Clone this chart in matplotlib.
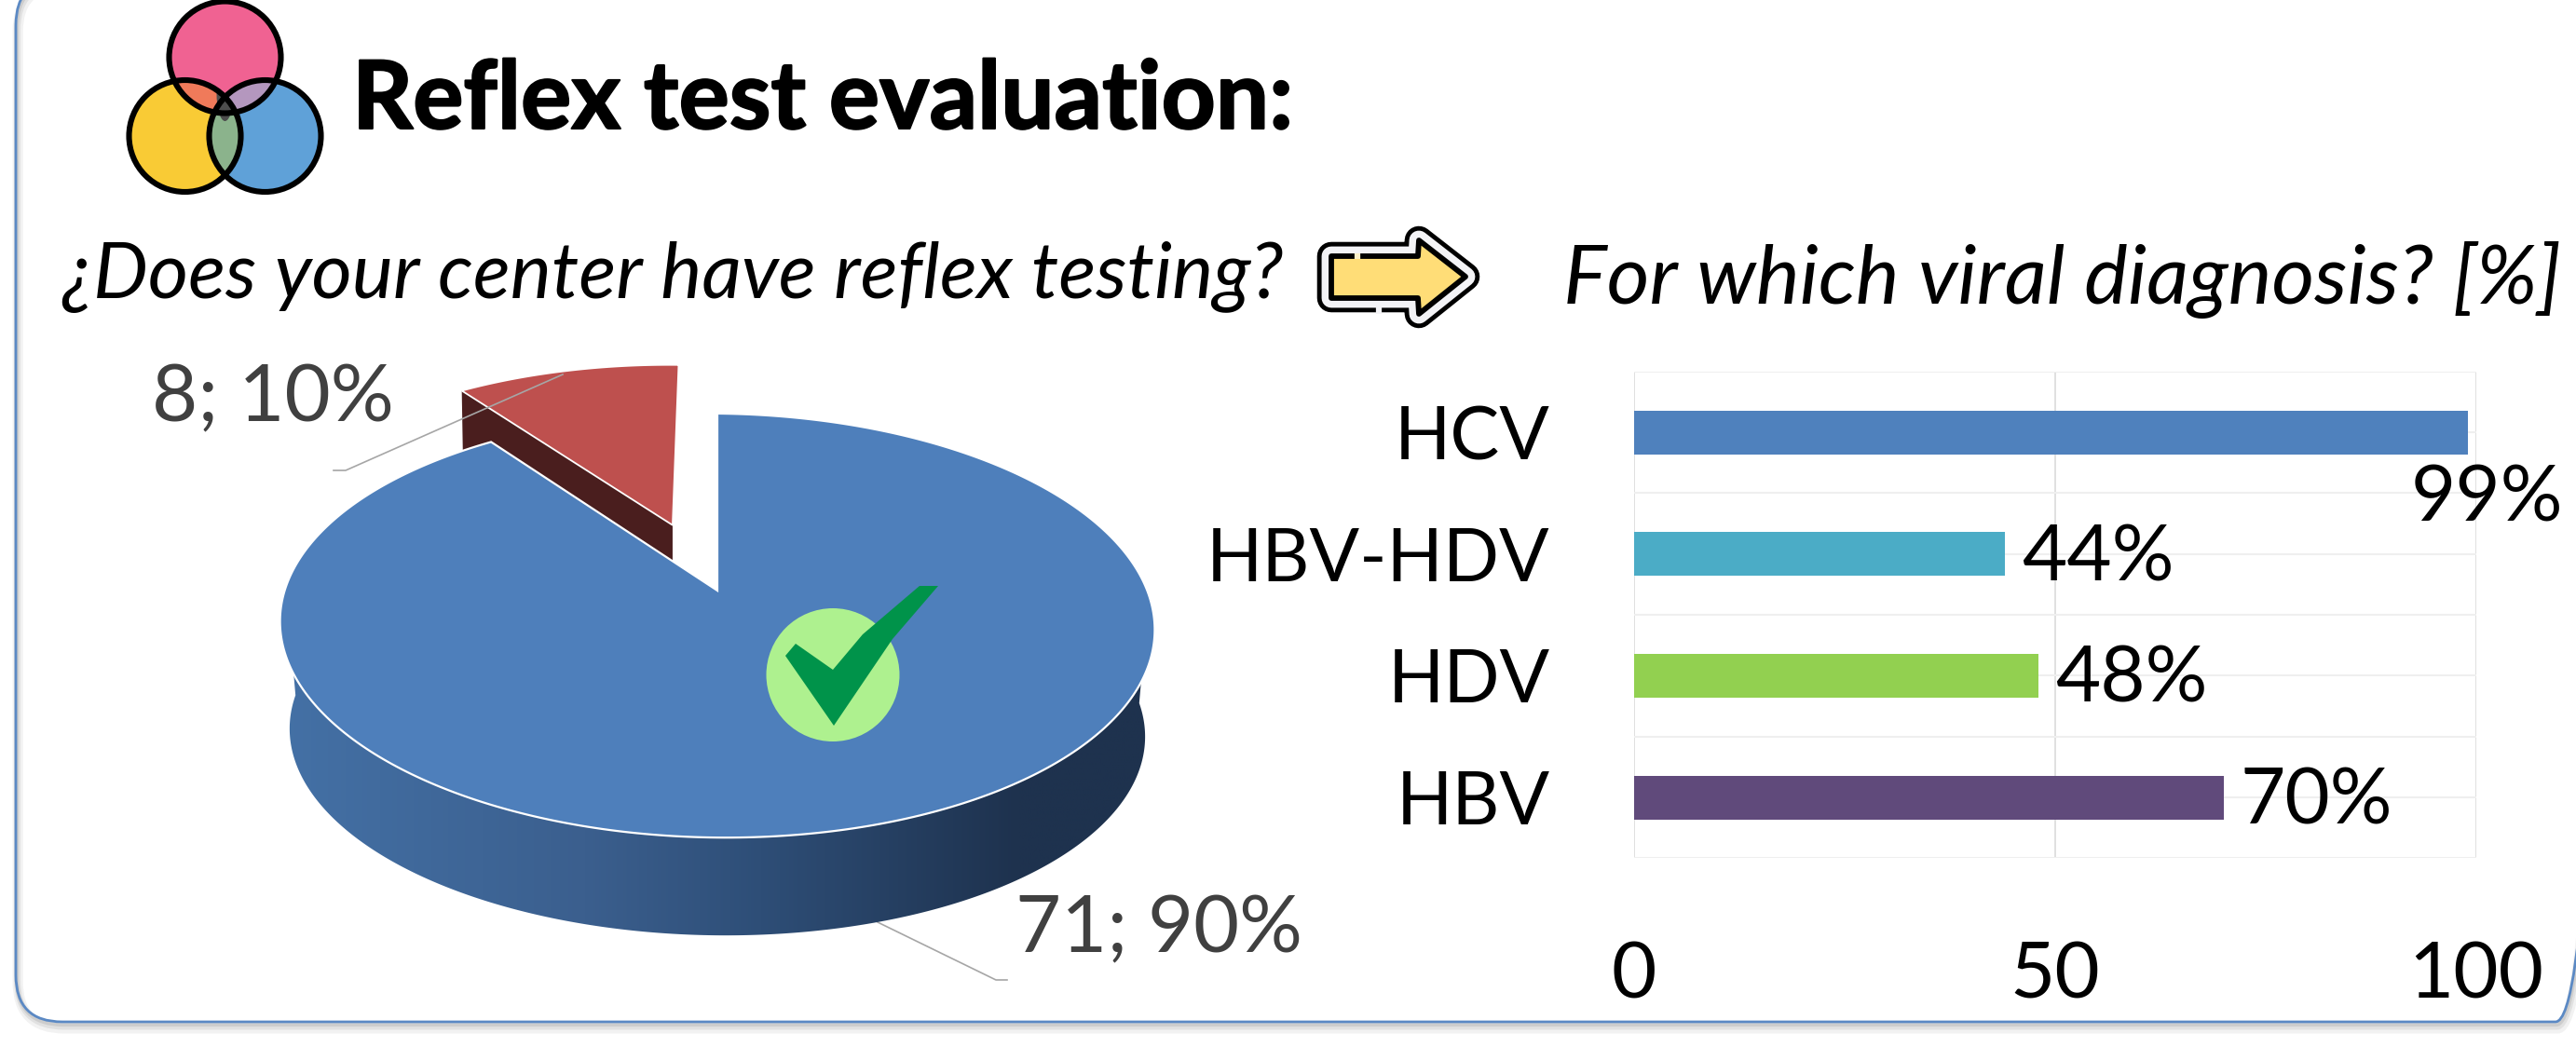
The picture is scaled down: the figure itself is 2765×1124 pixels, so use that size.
import numpy as np
import matplotlib
matplotlib.use("Agg")
import matplotlib.pyplot as plt
import matplotlib.patheffects as pe
from matplotlib.patches import Ellipse, Polygon, FancyBboxPatch, Circle

# ---------- data ----------
pie_labels = ["Yes", "No"]
pie_counts = [71, 8]
bar_categories = ["HCV", "HBV-HDV", "HDV", "HBV"]
bar_values = [99, 44, 48, 70]
bar_colors = ["#4F81BD", "#4BACC6", "#92D050", "#604A7B"]
bar_ticks = [0, 50, 100]
title_text = "Reflex test evaluation:"
left_question = "¿Does your center have reflex testing?"
right_question = "For which viral diagnosis? [%]"

W, H = 2765, 1124
FONT = "Lato"
fig = plt.figure(figsize=(W / 100, H / 100), dpi=100, facecolor="white")

# overlay in pixel coordinates
ov = fig.add_axes([0, 0, 1, 1], zorder=1)
ov.set_xlim(0, W)
ov.set_ylim(H, 0)
ov.axis("off")
ov.patch.set_alpha(0)

# ---------- frame ----------
frame_xy = (17, -23)
frame_wh = (2776, 1120)
for off, a, lw in [(7, 0.10, 8), (5, 0.14, 5), (3, 0.20, 3)]:
    ov.add_patch(FancyBboxPatch((frame_xy[0] + off * 0.3, frame_xy[1] + off), *frame_wh,
                                boxstyle="round,pad=0,rounding_size=50",
                                fc="none", ec="#808080", alpha=a, lw=lw, zorder=1))
ov.add_patch(FancyBboxPatch(frame_xy, *frame_wh, boxstyle="round,pad=0,rounding_size=50",
                            fc="none", ec="#5B89C4", lw=2.0, zorder=2))


def fit_text(s, x0, x1, baseline, **kw):
    t = ov.text(x0, baseline, s, family=FONT, va="baseline", ha="left", fontsize=60, zorder=30, **kw)
    r = fig.canvas.get_renderer()
    w = t.get_window_extent(r).width
    t.set_fontsize(60 * (x1 - x0) / w)
    return t


tt = fit_text(title_text, 378, 1388, 138, fontweight="bold", color="black")
tt.set_path_effects([pe.withStroke(linewidth=1.5, foreground="black")])
fit_text(left_question, 66, 1378, 320, style="italic", color="black")
fit_text(right_question, 1678, 2749, 326, style="italic", color="black")

# ---------- Venn icon ----------
venn = {"p": (241.5, 61.5, "#F06292"), "y": (198.5, 146, "#F9CB35"), "b": (284.5, 146, "#5FA1D8")}
RV = 60
for v in venn.values():
    ov.add_patch(Circle(v[:2], RV, fc=v[2], ec="none", zorder=5))


def overlap(a, b, col):
    c = Circle(venn[a][:2], RV, fc=col, ec="none", zorder=6)
    ov.add_patch(c)
    c.set_clip_path(Circle(venn[b][:2], RV, transform=ov.transData))


overlap("p", "y", "#F07A5A")
overlap("p", "b", "#B497BE")
overlap("y", "b", "#8BB38C")
tri = Circle(venn["y"][:2], RV, fc="#4D4D4D", ec="none", zorder=7)
ov.add_patch(tri)
tri.set_clip_path(Ellipse((241.5, 100), 18, 60, transform=ov.transData))
for v in venn.values():
    ov.add_patch(Circle(v[:2], RV, fc="none", ec="black", lw=4.4, zorder=8))

# ---------- arrow icon ----------
arrow_shape = [(1429, 275), (1522, 275), (1523, 258), (1573, 297), (1523, 337), (1522, 320), (1429, 320)]
ov.add_patch(Polygon(arrow_shape, closed=True, fc="black", ec="black", lw=22, joinstyle="round", zorder=5))
ov.add_patch(Polygon(arrow_shape, closed=True, fc="#F3F3F6", ec="#F3F3F6", lw=15, joinstyle="round", zorder=6))
ov.add_patch(Polygon(arrow_shape, closed=True, fc="#FFDD77", ec="black", lw=4.2, joinstyle="round", zorder=7))
ov.plot([1457, 1457], [272, 278], color="#FBEFC8", lw=4.5, solid_capstyle="butt", zorder=8)
ov.plot([1480, 1480], [328, 337], color="#F3F3F6", lw=4.5, solid_capstyle="butt", zorder=8)

# ---------- 3D pie ----------
PCX, PCY, PR = 770, 634, 463
PC, PA = 0.165, -116.8
TILT = 0.0096
DEPTH, KX, KY, ECY = 115, 0.978, 0.956, 671.5


def proj_top(xy):
    u, v = xy[:, 0], xy[:, 1]
    d = 1 + PC * v
    x = PCX + PR * u / d
    y = (PA * v + PCY) / d + TILT * (x - PCX)
    return np.column_stack([x, y])


def proj_bottom(xy):
    p = proj_top(xy)
    return np.column_stack([PCX + (p[:, 0] - PCX) * KX, ECY + (p[:, 1] - ECY) * KY + DEPTH])


helper = fig.add_axes([0, 0, 0.01, 0.01])
wedges, _ = helper.pie(pie_counts, startangle=90, counterclock=False, explode=[0, 0.35], radius=1)
helper.set_visible(False)


def wedge_xy(w):
    a = np.deg2rad(np.linspace(w.theta1, w.theta2, 400))
    c = np.array(w.center)
    arc = c + w.r * np.column_stack([np.cos(a), np.sin(a)])
    return np.vstack([c, arc])


blue_p, red_p = proj_top(wedge_xy(wedges[0])), proj_top(wedge_xy(wedges[1]))

# side wall of the main slice: front half of the rim with a horizontal gradient
th = np.linspace(np.pi, 2 * np.pi, 400)
rim = np.column_stack([np.cos(th), np.sin(th)])
side = Polygon(np.vstack([proj_top(rim), proj_bottom(rim)[::-1]]), closed=True, fc="none", ec="none",
               transform=ov.transData)
ov.add_patch(side)
grad_x = np.linspace(0, 1, 400)
stops_x = [0.0, 0.35, 0.55, 0.84, 1.0]
stops_c = np.array([[0x44, 0x71, 0xA6], [0x3B, 0x5F, 0x8E], [0x2E, 0x4E, 0x77], [0x1E, 0x32, 0x4E], [0x1E, 0x32, 0x4E]])
grad = np.stack([np.interp(grad_x, stops_x, stops_c[:, i]) for i in range(3)], axis=1)[None, :, :] / 255
im = ov.imshow(grad, extent=(296, 1244, 1010, 660), aspect="auto", zorder=3, interpolation="bilinear")
im.set_clip_path(side)
ov.set_xlim(0, W)
ov.set_ylim(H, 0)

# cut wall of the exploded slice (apex to its left corner)
red_apex, red_corner = red_p[0], red_p[np.argmin(red_p[:, 0])]
ov.add_patch(Polygon([red_apex, red_corner, red_corner + [2, DEPTH], red_apex + [0, DEPTH]], closed=True,
                     fc="#4A1E1E", ec="none", zorder=3))
ov.add_patch(Polygon(red_p, closed=True, fc="#BE504E", ec="white", lw=1.3, zorder=4))
ov.add_patch(Polygon(blue_p, closed=True, fc="#4E7FBB", ec="white", lw=1.6, zorder=5))

# leader lines
ov.plot([604, 371, 358], [402, 505, 505], color="#A6A6A6", lw=1.2, zorder=6)
ov.plot([942, 1069, 1081], [990, 1052, 1052], color="#A6A6A6", lw=1.2, zorder=2)
total = sum(pie_counts)
pie_text = [f"{c}; {round(100 * c / total)}%" for c in pie_counts]
fit_text(pie_text[1], 163, 423, 452, color="#404040")
fit_text(pie_text[0], 1090, 1398, 1022, color="#404040")

# check mark
ov.add_patch(Ellipse((894, 724.5), 143, 143, fc="#AEF18F", ec="none", zorder=6))
ck = [(843, 704), (854, 691), (894, 719), (926, 681), (987, 629), (1007, 629), (958, 686), (895, 779)]
ov.add_patch(Polygon(ck, closed=True, fc="#00934A", ec="none", zorder=7))

# ---------- bar chart ----------
ax = fig.add_axes([1754 / W, 1 - 921.4 / H, 904 / W, 522.7 / H], zorder=2)
ax.patch.set_alpha(0)
ypos = np.arange(len(bar_categories))
ax.barh(ypos, bar_values, height=0.36, color=bar_colors, zorder=3)
ax.set_xlim(0, 100)
ax.set_ylim(len(bar_categories) - 0.5, -0.5)
ax.set_yticks(ypos)
ax.set_yticklabels(bar_categories, family=FONT, fontsize=57)
ax.set_xticks(bar_ticks)
ax.set_xticklabels([str(t) for t in bar_ticks], family=FONT, fontsize=60)
ax.set_yticks(np.arange(-0.5, len(bar_categories), 1.0), minor=True)
ax.tick_params(which="both", length=0)
ax.tick_params(axis="y", pad=65)
ax.tick_params(axis="x", pad=64)
ax.set_axisbelow(True)
ax.grid(which="both", axis="y", color="#EFEFEF", lw=1.5, zorder=0)
ax.grid(which="major", axis="x", color="#DDDDDD", lw=1.3, zorder=0)
for s in ax.spines.values():
    s.set_visible(False)
label_offsets = [(-44, -52), (13, -4), (13, -4), (13, -4)]
for y, v, off in zip(ypos, bar_values, label_offsets):
    ax.annotate(f"{v}%", (v, y), xytext=off, textcoords="offset points", va="center", ha="left",
                family=FONT, fontsize=60, color="black", annotation_clip=False, zorder=10)

fig.savefig("out.png", dpi=100, facecolor="white")
